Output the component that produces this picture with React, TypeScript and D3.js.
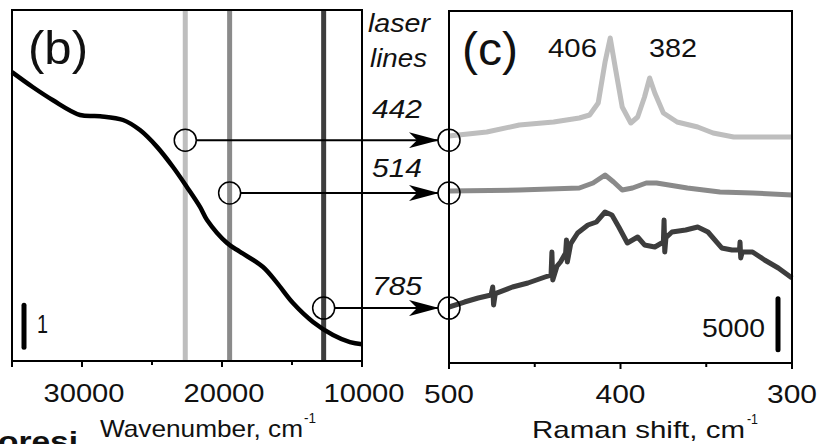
import React from 'react';
import * as d3 from 'd3';

// (b) absorption spectrum: wavenumber (cm-1) vs absorbance (a.u.)
const absWn = [35000, 33500, 32070, 30140, 28710, 27070, 25860, 24640, 23500, 22500, 21570, 21070, 19640, 18710, 17070, 16070, 14930, 13500, 12070, 10860, 10000];
const absVal = [6.88, 6.52, 6.21, 5.86, 5.83, 5.74, 5.5, 5.1, 4.62, 4.14, 3.67, 3.36, 2.81, 2.6, 2.24, 1.86, 1.38, 0.93, 0.62, 0.45, 0.4];

// laser lines (nm) and where they meet the absorption curve
const laserNm = [442, 514, 785];
const laserColors = ['#bebebe', '#8a8a8a', '#3d3d3d'];
const laserHitAbs = [5.26, 4.0, 1.26];

// (c) Raman spectra, stacked counts
const ramanShift442 = [500, 478, 459, 439, 424, 418, 413, 409, 406, 403, 399, 394, 390, 386, 383, 380, 375, 367, 355, 346, 334, 323, 300];
const raman442 = [22255, 22647, 23333, 23628, 24020, 24314, 25490, 29510, 31863, 28922, 25098, 23530, 24118, 26079, 27941, 26471, 24510, 23628, 23137, 22549, 22157, 22157, 22157];

const ramanShift514 = [500, 459, 424, 416, 409, 404, 399, 393, 385, 379, 361, 342, 323, 300];
const raman514 = [16863, 16961, 17157, 17647, 18431, 17745, 16961, 17157, 17647, 17647, 17157, 16765, 16667, 16471];

const ramanShift785 = [500, 491, 483, 475.5, 474.5, 474, 473, 463, 454, 444, 440.5, 440, 439.5, 437, 435, 432, 431.5, 431, 429, 425, 419, 414, 409, 405, 401, 396, 390, 386, 380, 375, 374.6, 374.2, 373.5, 370, 362, 355, 349, 341, 335, 330.6, 330.3, 329.9, 329, 323, 316, 308, 300];
const raman785 = [5490, 5980, 6373, 6667, 7451, 5686, 6800, 7451, 7843, 8431, 8627, 10882, 8137, 9500, 9902, 10784, 12059, 9902, 11700, 12745, 13529, 13824, 14804, 14510, 13333, 11765, 12353, 11569, 11373, 11863, 14020, 10882, 12300, 12843, 13039, 13333, 12843, 11275, 11078, 11078, 11863, 10294, 10900, 10882, 10098, 9314, 8333];

const wnTicksMajor = [35000, 30000, 20000, 10000];
const wnTicksMinor = [25000, 15000];
const wnTickLabels = ['30000', '20000', '10000'];
const ramanTicksMajor = [500, 400, 300];
const ramanTicksMinor = [450, 350];
const ramanTickLabels = ['500', '400', '300'];

const FONT = 'Liberation Sans, Arial, sans-serif';

function Label({ x, y, size, w, anchor = 'start', italic = false, bold = false, children }: any) {
  return (
    <text x={x} y={y} fontSize={size} fontFamily={FONT} textAnchor={anchor}
      fontStyle={italic ? 'italic' : 'normal'} fontWeight={bold ? 'bold' : 'normal'}
      textLength={w} lengthAdjust="spacingAndGlyphs" fill="#111">{children}</text>
  );
}

export default function App() {
  const width = 820;
  const height = 444;

  const xWn = d3.scaleLinear().domain([35000, 10000]).range([12, 362]);
  const yAbs = d3.scaleLinear().domain([0, 8.36]).range([361, 10]);
  const xR = d3.scaleLinear().domain([500, 300]).range([449, 792]);
  const yR = d3.scaleLinear().domain([0, 34510]).range([363, 11]);

  const absLine = d3.line<number>()
    .x((d, i) => xWn(absWn[i]))
    .y(d => yAbs(d))
    .curve(d3.curveCatmullRom);

  const spec = (shift: number[]) => d3.line<number>()
    .x((d, i) => xR(shift[i]))
    .y(d => yR(d));

  const spectra = [
    { shift: ramanShift442, vals: raman442 },
    { shift: ramanShift514, vals: raman514 },
    { shift: ramanShift785, vals: raman785 },
  ];

  const axisY = 361;
  const rAxisY = 363;
  const circleR = 11;

  return (
    <svg width={width} height={height} style={{ position: 'absolute', left: 0, top: 0, background: '#fff' }}>
      <defs>
        <marker id="arr" viewBox="0 0 30 16" refX="29" refY="8" markerWidth="30" markerHeight="16" markerUnits="userSpaceOnUse" orient="auto">
          <path d="M0,0 L30,8 L0,16 L8,8 Z" fill="#000" />
        </marker>
      </defs>

      {/* panel (b) */}
      {laserNm.map((nm, i) => (
        <line key={nm} x1={xWn(1e7 / nm)} x2={xWn(1e7 / nm)} y1={10} y2={axisY}
          stroke={laserColors[i]} strokeWidth={5} />
      ))}
      <path d={absLine(absVal) || ''} fill="none" stroke="#000" strokeWidth={4.5} strokeLinejoin="round" />
      <rect x={12} y={10} width={350} height={axisY - 10} fill="none" stroke="#000" strokeWidth={2} />
      {wnTicksMajor.map(t => (
        <line key={t} x1={xWn(t)} x2={xWn(t)} y1={axisY} y2={axisY + 6} stroke="#000" strokeWidth={2} />
      ))}
      {wnTicksMinor.map(t => (
        <line key={t} x1={xWn(t)} x2={xWn(t)} y1={axisY} y2={axisY + 4} stroke="#000" strokeWidth={2} />
      ))}
      {wnTickLabels.map(t => (
        <Label key={t} x={xWn(+t) + 2} y={402} size={26} w={81} anchor="middle">{t}</Label>
      ))}
      <Label x={100} y={437} size={24} w={203}>Wavenumber, cm</Label>
      <Label x={304} y={423} size={14} w={12}>-1</Label>
      <Label x={28} y={64} size={47} w={60}>(b)</Label>
      <line x1={24} x2={24} y1={yAbs(1.33)} y2={yAbs(0.33)} stroke="#000" strokeWidth={5} strokeLinecap="round" />
      <Label x={37} y={333} size={26} w={11}>1</Label>

      {/* laser labels */}
      <Label x={368} y={32} size={25} w={62} italic>laser</Label>
      <Label x={370} y={67} size={25} w={57} italic>lines</Label>
      {[118, 177, 295].map((y, i) => (
        <Label key={i} x={372} y={y} size={26} w={50} italic>{String(laserNm[i])}</Label>
      ))}

      {/* panel (c) */}
      {spectra.map((s, i) => (
        <path key={i} d={spec(s.shift)(s.vals) || ''} fill="none" stroke={laserColors[i]}
          strokeWidth={5} strokeLinejoin="round" />
      ))}
      <rect x={449} y={11} width={343} height={rAxisY - 11} fill="none" stroke="#000" strokeWidth={2} />
      {ramanTicksMajor.map(t => (
        <line key={t} x1={xR(t)} x2={xR(t)} y1={rAxisY} y2={rAxisY + 6} stroke="#000" strokeWidth={2} />
      ))}
      {ramanTicksMinor.map(t => (
        <line key={t} x1={xR(t)} x2={xR(t)} y1={rAxisY} y2={rAxisY + 4} stroke="#000" strokeWidth={2} />
      ))}
      {ramanTickLabels.map(t => (
        <Label key={t} x={xR(+t)} y={403} size={26} w={50} anchor="middle">{t}</Label>
      ))}
      <Label x={532} y={438} size={24} w={213}>Raman shift, cm</Label>
      <Label x={747} y={424} size={14} w={11}>-1</Label>
      <Label x={462} y={65} size={47} w={56}>(c)</Label>
      <Label x={548} y={57} size={26} w={49}>406</Label>
      <Label x={649} y={57} size={26} w={48}>382</Label>
      <line x1={778} x2={778} y1={yR(6300)} y2={yR(1300)} stroke="#000" strokeWidth={5} strokeLinecap="round" />
      <Label x={702} y={337} size={26} w={63}>5000</Label>

      {/* arrows from absorption curve to spectra */}
      {laserNm.map((nm, i) => {
        const cx = xWn(1e7 / nm);
        const cy = yAbs(laserHitAbs[i]);
        return (
          <g key={nm}>
            <circle cx={cx} cy={cy} r={circleR} fill="none" stroke="#000" strokeWidth={1.5} />
            <line x1={cx + circleR} x2={449 - circleR} y1={cy} y2={cy} stroke="#000" strokeWidth={2} markerEnd="url(#arr)" />
            <circle cx={449} cy={cy} r={circleR} fill="none" stroke="#000" strokeWidth={1.5} />
          </g>
        );
      })}

      {/* cut-off caption fragment */}
      <Label x={-2} y={451} size={28} w={80} bold>oresi</Label>
    </svg>
  );
}
